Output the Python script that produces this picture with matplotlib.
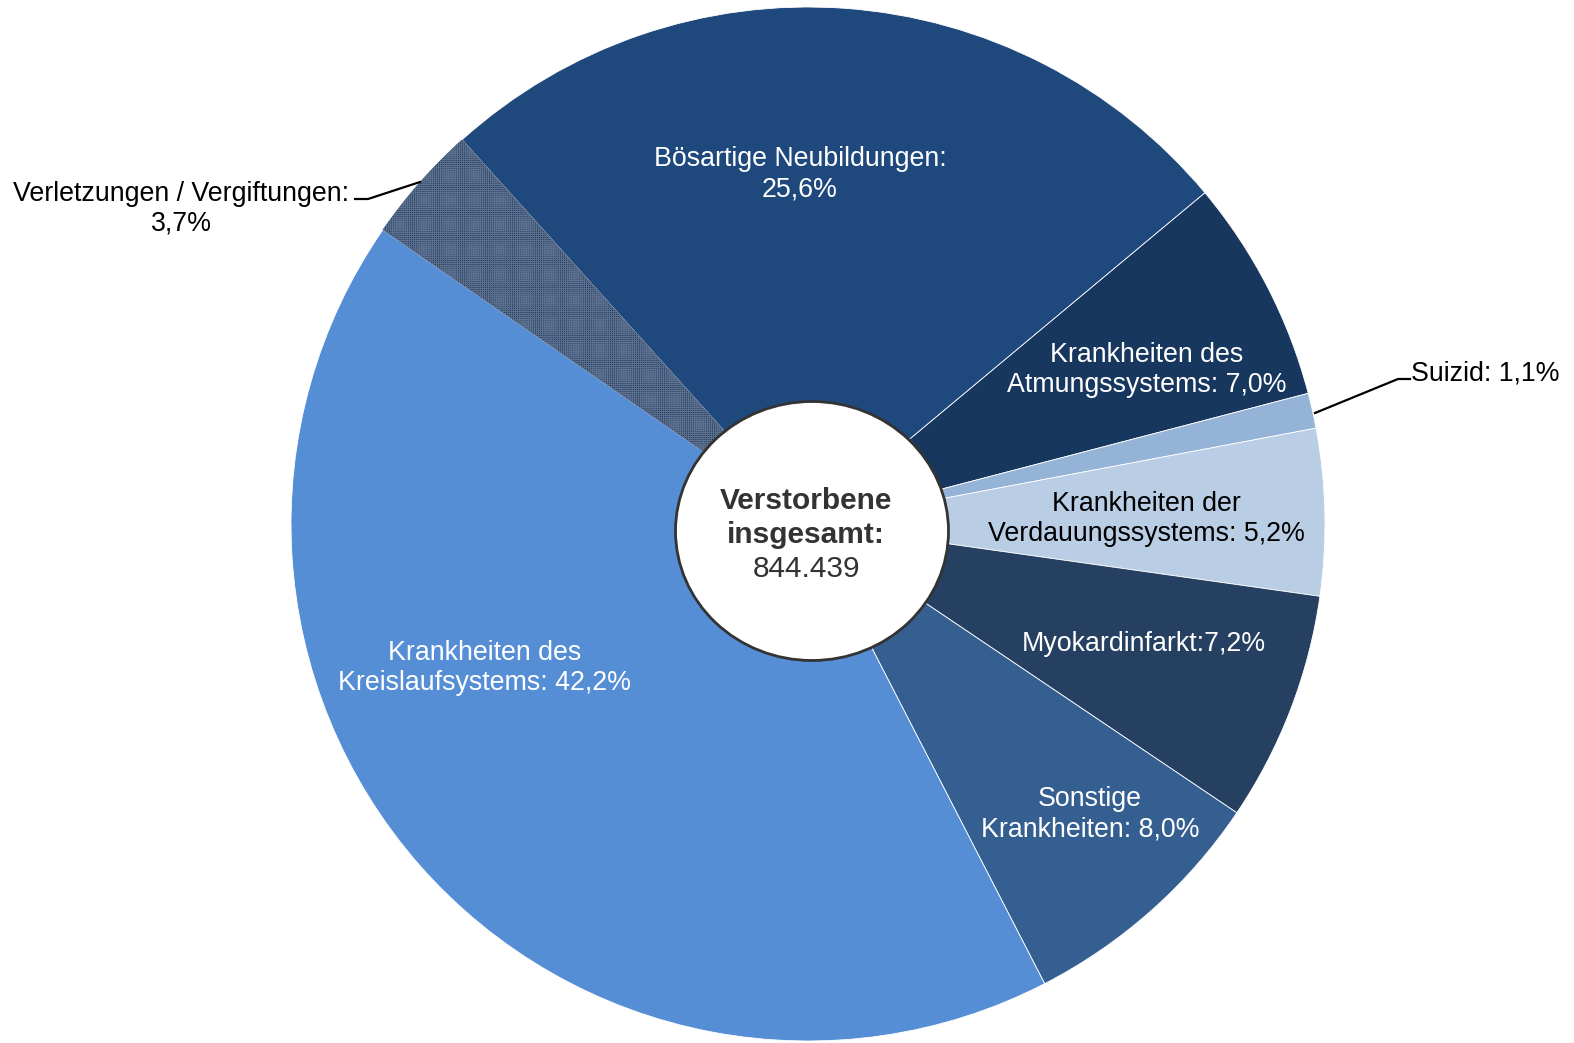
import matplotlib
matplotlib.use("Agg")
import matplotlib.pyplot as plt
from matplotlib.patches import Ellipse

# Anteile der Todesursachen (in %), im Uhrzeigersinn ab "Bösartige Neubildungen"
causes = ["Bösartige Neubildungen:\n", "Krankheiten des\nAtmungssystems: ", "Suizid: ",
          "Krankheiten der\nVerdauungssystems: ", "Myokardinfarkt:", "Sonstige\nKrankheiten: ",
          "Krankheiten des\nKreislaufsystems: ", "Verletzungen / Vergiftungen:\n"]
shares = [25.6, 7.0, 1.1, 5.2, 7.2, 8.0, 42.2, 3.7]
total_label = "844.439"

colors = ["#1F497D", "#17375E", "#95B3D7", "#B9CDE5", "#254061", "#365F91", "#558ED5", "#22395A"]
text_colors = ["white", "white", "black", "black", "white", "white", "white", "black"]

# label centres in pixel coordinates (x, y from top)
label_pos = [(800, 174), (1147, 370), (1411, 374), (1146, 519), (1144, 644),
             (1090, 814), (485, 668), (181, 209)]

W, H = 1574, 1043
plt.rcParams['font.family'] = ['Liberation Sans', 'DejaVu Sans']
plt.rcParams['hatch.linewidth'] = 0.7

fig = plt.figure(figsize=(W / 100, H / 100), dpi=100)
ax = fig.add_axes([0, 0, 1, 1])


def py(y):
    # pixel row -> data y
    return H - y


wedges, _ = ax.pie(shares, colors=colors, startangle=132.0, counterclock=False,
                   center=(808, py(524)), radius=517,
                   wedgeprops=dict(edgecolor="white", linewidth=0.6))

# dotted pattern on the Verletzungen slice
wedges[-1].set_hatch("+" * 8)
wedges[-1].set_edgecolor("#5C7090")
wedges[-1].set_linewidth(0.4)

ax.set_xlim(0, W)
ax.set_ylim(0, H)
ax.set_aspect("equal")
ax.axis("off")

for name, val, (x, y), tc in zip(causes, shares, label_pos, text_colors):
    txt = name + f"{val:.1f}".replace(".", ",") + "%"
    ha = "left" if name.startswith("Suizid") else "center"
    ax.text(x, py(y), txt, ha=ha, va="center", fontsize=19.3, color=tc,
            linespacing=1.2)

# leader lines for the small slices
ax.plot([355, 368, 420], [py(199), py(199), py(182)], color="black", lw=1.6)
ax.plot([1315, 1398, 1410], [py(413), py(379), py(379)], color="black", lw=1.6)

# centre circle
ax.add_patch(Ellipse((812, py(531)), 273, 259, facecolor="white",
                     edgecolor="#333333", lw=2, zorder=5))
ax.text(806, py(501), "Verstorbene", ha="center", va="center", fontsize=21.5,
        fontweight="bold", color="#333333", zorder=6)
ax.text(806, py(535), "insgesamt:", ha="center", va="center", fontsize=21.5,
        fontweight="bold", color="#333333", zorder=6)
ax.text(806, py(569), total_label, ha="center", va="center", fontsize=21.5,
        color="#333333", zorder=6)

fig.savefig("out.png", dpi=100)
